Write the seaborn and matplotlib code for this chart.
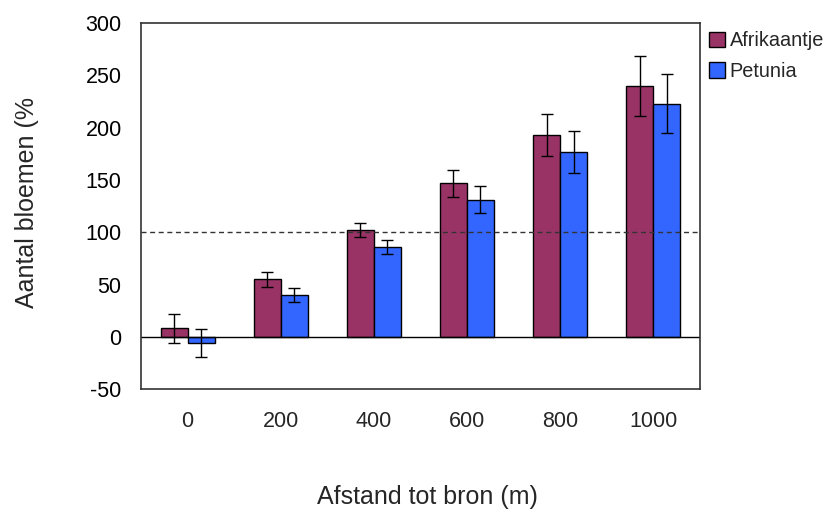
import matplotlib
matplotlib.use("Agg")
import matplotlib.pyplot as plt
import seaborn as sns
import pandas as pd
import numpy as np

afstanden = ["0", "200", "400", "600", "800", "1000"]
soorten = ["Afrikaantje", "Petunia"]
afrikaantje = [8, 55, 102, 147, 193, 240]
petunia = [-6, 40, 86, 131, 177, 223]
afrikaantje_err = [13.5, 7, 7, 13, 20, 28.5]
petunia_err = [13.5, 7, 6.5, 13, 20, 28.5]
kleuren = ["#993366", "#3366FF"]

df = pd.DataFrame({
    "afstand": afstanden * 2,
    "soort": [soorten[0]] * len(afstanden) + [soorten[1]] * len(afstanden),
    "waarde": afrikaantje + petunia,
})

sns.set_style("white")
plt.rcParams["font.family"] = ["Liberation Sans", "DejaVu Sans"]

fig = plt.figure(figsize=(8.30, 5.14), dpi=100)
ax = fig.add_axes([0.170, 0.243, 0.673, 0.712])

sns.barplot(data=df, x="afstand", y="waarde", hue="soort", order=afstanden,
            hue_order=soorten, palette=kleuren, width=0.58, edgecolor="black",
            linewidth=1.0, errorbar=None, saturation=1, ax=ax, gap=0)

for cont, errs in zip(ax.containers, [afrikaantje_err, petunia_err]):
    xs = [p.get_x() + p.get_width() / 2 for p in cont.patches]
    hs = [p.get_height() for p in cont.patches]
    ax.errorbar(xs, hs, yerr=errs, fmt="none", ecolor="black", elinewidth=1.0,
                capsize=4.5, capthick=1.0, zorder=5)

ax.axhline(0, color="black", lw=1.0, zorder=1)
ax.axhline(100, color="#333333", lw=1.0, ls=(0, (3.6, 2.6)), zorder=1)

ax.set_ylim(-50, 300)
ax.set_xlim(-0.5, 5.5)
ax.set_yticks(np.arange(-50, 301, 50))
ax.set_yticklabels([f"{v:d}" for v in np.arange(-50, 301, 50)])
ax.tick_params(axis="y", direction="in", length=5, width=1, pad=14, labelsize=15.5, colors="black")
ax.tick_params(axis="x", length=0, pad=16, labelsize=15.5)
for s in ax.spines.values():
    s.set_color("#333333")
    s.set_linewidth(1.2)

ax.set_xlabel("Afstand tot bron (m)", fontsize=18)
ax.xaxis.set_label_coords(0.513, -0.262)
ax.set_ylabel("Aantal bloemen (%", fontsize=18)
ax.yaxis.set_label_coords(-0.183, 0.51)

ax.legend(loc="upper left", bbox_to_anchor=(1.003, 1.0), frameon=False,
          fontsize=14.3, handlelength=0.8, handleheight=0.8, handletextpad=0.22,
          labelspacing=0.6, borderaxespad=0.0)

fig.savefig("out.png", dpi=100)
